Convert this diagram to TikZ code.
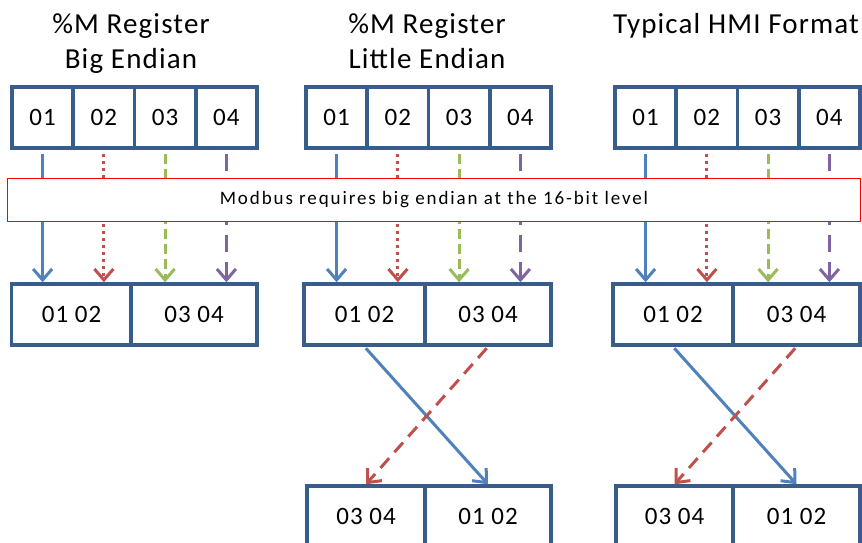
\documentclass[tikz,border=0pt]{standalone}
\usepackage{fontspec}
\setmainfont{Carlito}[LetterSpace=4]
\usetikzlibrary{arrows.meta}

\definecolor{boxblue}{HTML}{385D8A}
\definecolor{arrblue}{HTML}{4F81BD}
\definecolor{arrred}{HTML}{C0504D}
\definecolor{arrgreen}{HTML}{9BBB59}
\definecolor{arrpurple}{HTML}{8064A2}

\begin{document}
\begin{tikzpicture}[x=1pt,y=-1pt,
    cell/.style={draw=boxblue,line width=3.5pt,fill=white,inner sep=0pt,
      minimum height=61pt,font=\fontsize{25}{30}\selectfont},
    byte/.style={cell,minimum width=61.25pt},
    word/.style={cell,minimum width=#1},
    title/.style={align=center,anchor=north,inner sep=0pt,font=\fontsize{29}{35}\selectfont},
    flow/.style={line width=3pt,-{Straight Barb[length=11pt,width=19pt,line width=3pt]}},
    fa/.style={flow,arrblue},
    fb/.style={flow,arrred,dash pattern=on 3pt off 4pt},
    fc/.style={flow,arrgreen,dash pattern=on 10pt off 5pt},
    fd/.style={flow,arrpurple,dash pattern=on 17pt off 10pt},
    swap/.style={flow,arrred,dash pattern=on 13pt off 8pt}]
  \useasboundingbox (0,0) rectangle (862,543);
  % titles
  \node[title] (h1) at (131,13) {\%M Register\\Big Endian};
  \node[title] (h2) at (427,13) {\%M Register\\Little Endian};
  \node[title] (h3) at (736,13) {Typical HMI Format};
  % bytes
  \node[byte] (a1) at (42.6,117.5) {01};
  \node[byte] (a2) at (103.9,117.5) {02};
  \node[byte] (a3) at (165.1,117.5) {03};
  \node[byte] (a4) at (226.4,117.5) {04};
  \node[byte] (b1) at (336.6,117.5) {01};
  \node[byte] (b2) at (397.9,117.5) {02};
  \node[byte] (b3) at (459.1,117.5) {03};
  \node[byte] (b4) at (520.4,117.5) {04};
  \node[byte] (c1) at (645.6,117.5) {01};
  \node[byte] (c2) at (706.9,117.5) {02};
  \node[byte] (c3) at (768.1,117.5) {03};
  \node[byte] (c4) at (829.4,117.5) {04};
  % words
  \node[word=120pt] (ma1) at (71.5,314.5) {01 02};
  \node[word=126pt] (ma2) at (194,314.5) {03 04};
  \node[word=121pt] (mb1) at (364.5,314.5) {01 02};
  \node[word=126pt] (mb2) at (488,314.5) {03 04};
  \node[word=120pt] (mc1) at (673,314.5) {01 02};
  \node[word=127pt] (mc2) at (796.5,314.5) {03 04};
  \node[word=118pt] (sb1) at (366,516.5) {03 04};
  \node[word=126pt] (sb2) at (488,516.5) {01 02};
  \node[word=117pt] (sc1) at (674.5,516.5) {03 04};
  \node[word=127pt] (sc2) at (796.5,516.5) {01 02};
  % byte order into registers
  \draw[fa,shorten <=4pt] (a1.south) -- (a1.south |- ma1.north);
  \draw[fb,shorten <=4pt] (a2.south) -- (a2.south |- ma1.north);
  \draw[fc,shorten <=4pt] (a3.south) -- (a3.south |- ma2.north);
  \draw[fd,shorten <=4pt] (a4.south) -- (a4.south |- ma2.north);
  \draw[fa,shorten <=4pt] (b1.south) -- (b1.south |- mb1.north);
  \draw[fb,shorten <=4pt] (b2.south) -- (b2.south |- mb1.north);
  \draw[fc,shorten <=4pt] (b3.south) -- (b3.south |- mb2.north);
  \draw[fd,shorten <=4pt] (b4.south) -- (b4.south |- mb2.north);
  \draw[fa,shorten <=4pt] (c1.south) -- (c1.south |- mc1.north);
  \draw[fb,shorten <=4pt] (c2.south) -- (c2.south |- mc1.north);
  \draw[fc,shorten <=4pt] (c3.south) -- (c3.south |- mc2.north);
  \draw[fd,shorten <=4pt] (c4.south) -- (c4.south |- mc2.north);
  % word swap
  \draw[fa,shorten <=2pt] (mb1.south) -- (sb2.north);
  \draw[swap,shorten <=2pt] (mb2.south) -- (sb1.north);
  \draw[fa,shorten <=2pt] (mc1.south) -- (sc2.north);
  \draw[swap,shorten <=2pt] (mc2.south) -- (sc1.north);
  % modbus band
  \node[draw=red,line width=1.5pt,fill=white,minimum width=853pt,minimum height=43pt,
    inner sep=0pt,font=\fontsize{19}{20}\selectfont\addfontfeature{LetterSpace=10}] (mb) at (434,200)
    {Modbus requires big endian at the 16-bit level};
\end{tikzpicture}
\end{document}
